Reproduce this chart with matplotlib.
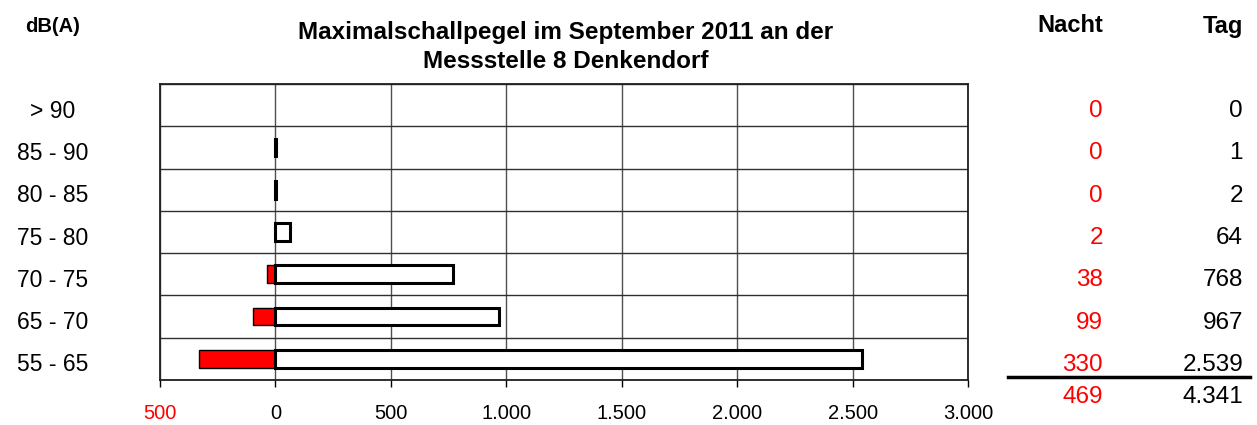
import numpy as np
import matplotlib.pyplot as plt
import matplotlib.transforms as mtransforms
from matplotlib.ticker import FuncFormatter

plt.rcParams['font.family'] = ['Liberation Sans', 'DejaVu Sans']

klassen = ['> 90', '85 - 90', '80 - 85', '75 - 80', '70 - 75', '65 - 70', '55 - 65']
nacht = [0, 0, 0, 2, 38, 99, 330]
tag = [0, 1, 2, 64, 768, 967, 2539]
xticks = [-500, 0, 500, 1000, 1500, 2000, 2500, 3000]


def de(v):
    return f"{int(v):,}".replace(",", ".")


W, H = 1257, 425
fig = plt.figure(figsize=(W / 100, H / 100), dpi=100)
ax = fig.add_axes([160 / W, 1 - 380 / H, (968 - 160) / W, (380 - 84) / H])

y = np.arange(len(klassen))
# empty classes get no outline, like the original
lw_n = [1.0 if v else 0 for v in nacht]
lw_t = [2.2 if v else 0 for v in tag]
ax.barh(y, -np.array(nacht), height=0.42, color='#ff0000', edgecolor='black', linewidth=lw_n, zorder=3)
ax.barh(y, tag, height=0.42, color='white', edgecolor='black', linewidth=lw_t, zorder=4)

ax.set_xlim(-500, 3000)
ax.set_ylim(len(klassen) - 0.5, -0.5)
ax.set_xticks(xticks)
ax.xaxis.set_major_formatter(FuncFormatter(lambda v, p: de(abs(v))))
ax.set_yticks(y)
ax.set_yticklabels([])
ax.set_yticks(np.arange(len(klassen) + 1) - 0.5, minor=True)
ax.tick_params(axis='y', which='both', length=0)
ax.tick_params(axis='x', direction='out', length=5, width=1, labelsize=14.5, pad=12)
ax.xaxis.get_ticklabels()[0].set_color('#ff0000')
ax.grid(axis='x', which='major', color='#505050', linewidth=1, zorder=1)
ax.grid(axis='y', which='minor', color='#303030', linewidth=1, zorder=1)
for s in ax.spines.values():
    s.set_linewidth(1.3)
    s.set_color('#202020')

# labels left and table right, rows follow the axes data coordinates
off = mtransforms.ScaledTranslation(0, -6 / 100, fig.dpi_scale_trans)
trans = mtransforms.blended_transform_factory(fig.transFigure, ax.transData) + off
for i, k in enumerate(klassen):
    fig.text(53 / W, i, k, transform=trans, ha='center', va='center', fontsize=16.5)
    fig.text(1103 / W, i, de(nacht[i]), transform=trans, ha='right', va='center',
             fontsize=17.5, color='#ff0000')
    fig.text(1243 / W, i, de(tag[i]), transform=trans, ha='right', va='center', fontsize=17.5)

fig.add_artist(plt.Line2D([1008 / W, 1250 / W], [1 - 377 / H, 1 - 377 / H],
                          transform=fig.transFigure, color='black', linewidth=2.5))
fig.text(1103 / W, 1 - 397 / H, de(sum(nacht)), ha='right', va='center', fontsize=17.5, color='#ff0000')
fig.text(1243 / W, 1 - 397 / H, de(sum(tag)), ha='right', va='center', fontsize=17.5)

fig.text(1103 / W, 1 - 26 / H, 'Nacht', ha='right', va='center', fontsize=17, fontweight='bold')
fig.text(1243 / W, 1 - 26 / H, 'Tag', ha='right', va='center', fontsize=17, fontweight='bold')
fig.text(25 / W, 1 - 26 / H, 'dB(A)', ha='left', va='center', fontsize=14.5, fontweight='bold')
fig.text(566 / W, 1 - 47 / H, 'Maximalschallpegel im September 2011 an der\nMessstelle 8 Denkendorf',
         ha='center', va='center', fontsize=17.5, fontweight='bold', linespacing=1.3)

fig.savefig('out.png', dpi=100)
